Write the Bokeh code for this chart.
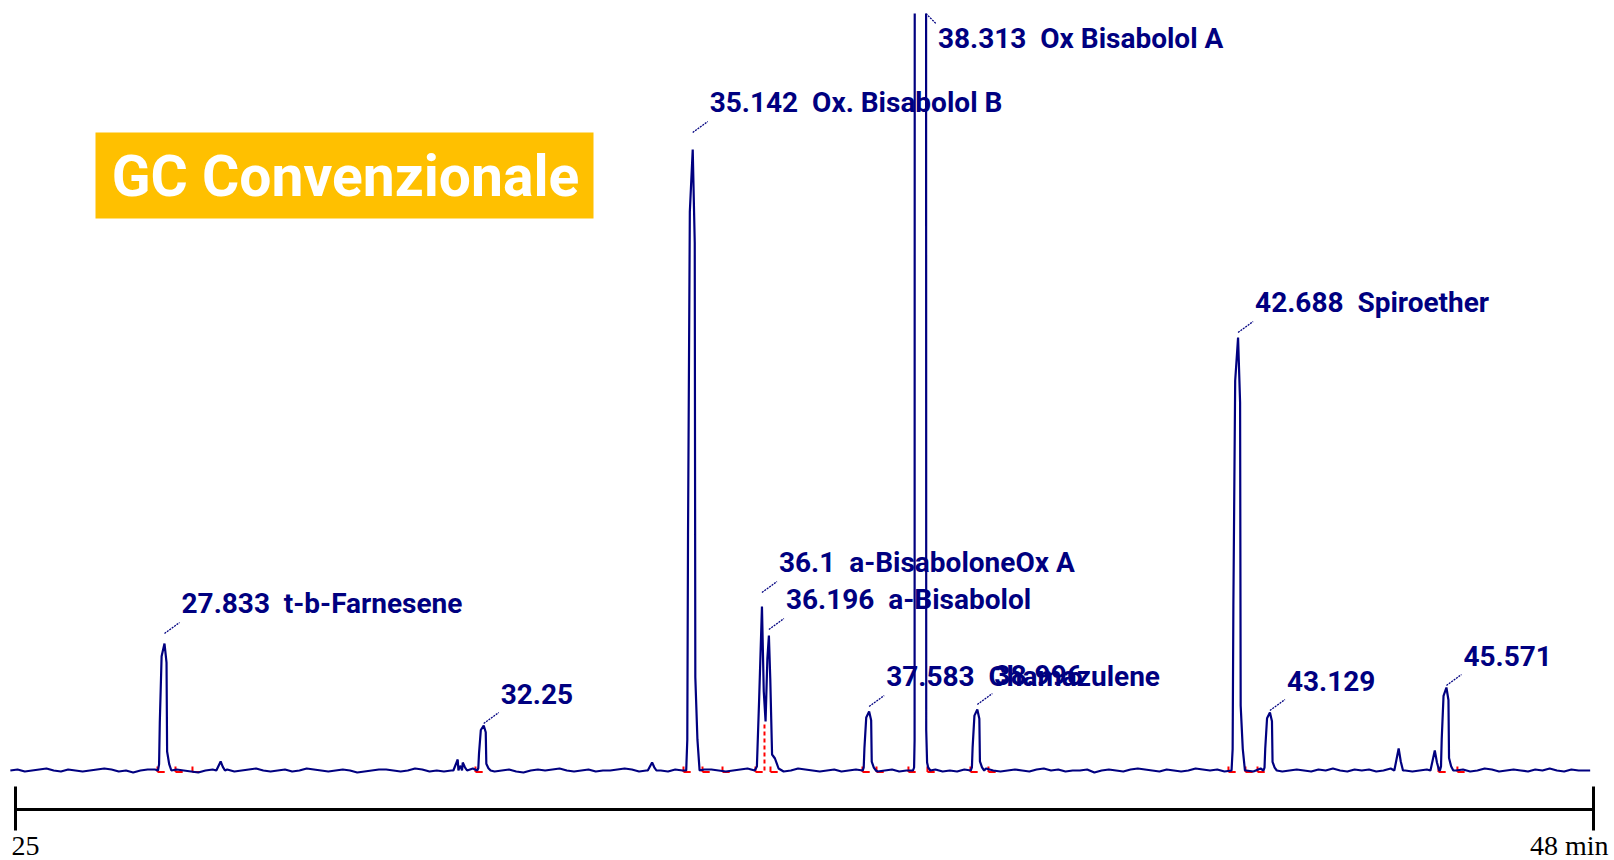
import numpy as np
from bokeh.plotting import figure
from bokeh.models import Range1d
from bokeh.core.properties import value
from bokeh.embed import file_html
from bokeh.resources import INLINE

# ---------------- data ----------------
# labelled, well separated peaks: retention time (min), apex signal (arbitrary units)
peak_rt = [27.833, 32.25, 35.142, 37.583, 39.08, 42.688, 43.129, 45.571]
peak_height = [127, 45, 621, 59, 61, 433, 58, 83]

# closely eluting pair 36.1 / 36.196 (explicit trace points)
pair_t = [36.00, 36.03, 36.06, 36.10, 36.125, 36.15, 36.175, 36.196, 36.215, 36.24, 36.28, 36.33]
pair_y = [0, 4, 69, 164, 79, 49, 112, 135, 92, 16, 12, 2]

# off-scale main peak 38.313 (explicit trace points, top is clipped)
main_t = [38.19, 38.205, 38.212, 38.215, 38.37, 38.373, 38.385, 38.40, 38.43]
main_y = [0, 3, 30, 1200, 1200, 40, 8, 3, 0]

label_rt = [27.833, 32.25, 35.142, 36.1, 36.196, 37.583, 38.313, 39.08, 42.688, 43.129, 45.571]
label_apex = [127, 45, 621, 164, 135, 59, 1200, 61, 433, 58, 83]
label_text = ["27.833  t-b-Farnesene", "32.25", "35.142  Ox. Bisabolol B",
              "36.1  a-BisaboloneOx A", "36.196  a-Bisabolol", "37.583  Chamazulene",
              "38.313  Ox Bisabolol A", "38.996", "42.688  Spiroether", "43.129", "45.571"]

# small unlabelled bumps
minor_rt = [28.61, 31.89, 31.96, 34.58, 44.91, 45.41]
minor_height = [9, 11, 8, 8, 22, 20]

# integration baseline markers (red) and drop line
marker_rt = [27.736, 27.985, 28.220, 32.136, 35.014, 35.277, 35.554, 36.010, 36.218,
             37.491, 37.685, 38.127, 38.390, 38.985, 39.234, 42.555, 42.790, 42.957,
             45.461, 45.723]
drop_rt = [36.135]
drop_height = [46]

# baseline noise, one value every 0.1 min from 25.70 min
noise = [0, 1, -1, 0, 1, 2, 0, -1, 1, 0, -1, 0, 1, 2, 1, -1, 0, -2, 0, 1,
         1, 0, -1, 1, 0, -1, -2, 0, 1, 0, 1, -1, 0, 1, 2, 0, -1, 0, 1, -1,
         0, 2, 1, 0, -1, 0, 1, 0, -2, -1, 0, 1, 1, 0, -1, 0, 2, 1, -1, 0,
         -1, 0, 1, 0, 2, 1, 0, -1, 0, 1, -1, -2, 0, 1, 0, 1, 2, 0, -1, 0,
         1, -1, 0, 0, 1, 2, 1, -1, 0, 1, 0, -1, 1, 0, -2, 0, 1, 1, 0, -1,
         0, 1, 2, 0, -1, 1, 0, -1, 0, 2, 1, 0, -1, 0, 1, -1, 0, 1, 2, 0,
         -1, 0, 1, -1, 0, 1, 0, 2, 1, -1, 0, -1, 1, 0, 1, 2, 0, -1, 0, 1,
         0, -1, 1, 2, 0, 1, -1, 0, 0, 1, -2, 0, 1, 0, -1, 1, 2, 1, 0, -1,
         1, 0, -1, 0, 2, 1, 0, 1, -1, 0, 1, 0, -1, 2, 1, 0, -1, 0, 1, 0,
         -1, 1, 0, 2, 0, -1, 1, 0, 1, -1, 0, 2, 1, 0, -1, 0, 1, -1, 0, 1,
         0, 1, -1, 0, 2, 1, -1, 0, 1, 0, -1, 1, 0, 2, 0, -1, 1, 0, 0]
noise_start = 25.70
noise_step = 0.1

axis_ticks = [25, 48]
axis_tick_labels = ["25", "48 min"]
title_text = "GC Convenzionale"

# ---------------- layout constants ----------------
W, H = 1614, 860
TOP = 13                         # frame top (px)
PXM = 72.27                      # px per minute of the trace
X0 = 27.833 - 164 / PXM          # time at the left canvas edge
Y_TOP, Y_BOT = 770 - TOP, 770 - H   # signal units (1 unit = 1 px, baseline at y=770 px)
AX0 = 25 - 15 * 23 / 1578        # overlay time bar: 25 at x=15 px, 48 at x=1593 px
AX1 = 25 + (W - 15) * 23 / 1578
NAVY = "#000080"
BL = 0.39                        # baseline correction, fraction of font size
LABEL_GAP = [10, 2, 17, 14, 6, 5, 0, 5, 5, 2, 2]   # px between drawn apex and leader


def wx(x):  # pixel x -> time
    return X0 + x / PXM


def wy(y):  # pixel y -> signal
    return 770 - y


def dpx(n):  # pixel offset -> minutes
    return n / PXM


def nb(s):  # keep double spaces visible
    return s.replace("  ", "\u00a0\u00a0")


# ---------------- build the trace ----------------
shape = [(-0.09, 0.0), (-0.075, 0.05), (-0.065, 0.38), (-0.04, 0.9), (0.0, 1.0),
         (0.028, 0.85), (0.036, 0.15), (0.065, 0.05), (0.095, 0.0)]
minor_shape = [(-0.06, 0.0), (-0.03, 0.5), (0.0, 1.0), (0.03, 0.4), (0.06, 0.0)]

base_t = [noise_start + i * noise_step for i in range(len(noise))] + [47.56]
base_y = list(noise) + [0]

windows = [(c - 0.1, c + 0.1) for c in peak_rt] + [(c - 0.07, c + 0.07) for c in minor_rt]
windows += [(pair_t[0] - 0.01, pair_t[-1] + 0.01), (main_t[0] - 0.01, main_t[-1] + 0.01)]

pts = []
for t, y in zip(base_t, base_y):
    if not any(a <= t <= b for a, b in windows):
        pts.append((t, y))
for c, h in zip(peak_rt, peak_height):
    pts += [(c + dt, f * h) for dt, f in shape]
for c, h in zip(minor_rt, minor_height):
    pts += [(c + dt, f * h) for dt, f in minor_shape]
pts += list(zip(pair_t, pair_y)) + list(zip(main_t, main_y))
pts.sort()
trace_t = [q[0] for q in pts]
trace_y = [q[1] for q in pts]

# ---------------- figure ----------------
p = figure(width=W, height=H, x_range=Range1d(X0, X0 + W / PXM),
           y_range=Range1d(Y_BOT, Y_TOP), x_axis_type=None, y_axis_type=None,
           output_backend="svg", toolbar_location=None,
           min_border_left=0, min_border_right=0, min_border_bottom=0, min_border_top=TOP)
p.extra_x_ranges = {"axis": Range1d(AX0, AX1)}
p.outline_line_color = None
p.background_fill_color = "white"
p.border_fill_color = "white"

# orange title box
p.quad(left=[wx(95)], right=[wx(593)], top=[wy(132)], bottom=[wy(218)],
       fill_color="#FFC000", line_color=None)
p.text(x=[wx(345)], y=[wy(198) + BL * 57], text=[title_text], text_color="white",
       text_font=value("Roboto"), text_font_style="bold", text_font_size="57px",
       text_align="center", text_baseline="alphabetic")

# red integration markers
n = len(marker_rt)
p.segment(x0=marker_rt, y0=[-1.5] * n, x1=[t + 0.1 for t in marker_rt], y1=[-1.5] * n,
          line_color="#FF0000", line_width=2)
p.segment(x0=marker_rt, y0=[-1.5] * n, x1=marker_rt, y1=[4] * n,
          line_color="#FF0000", line_width=2)
p.segment(x0=drop_rt, y0=[0] * len(drop_rt), x1=drop_rt, y1=drop_height,
          line_color="#FF0000", line_width=2, line_dash="4 3")

# chromatogram trace
p.line(trace_t, trace_y, line_color=NAVY, line_width=2.2)

# peak labels and leader lines
lx0, ly0, lx1, ly1, tx, ty = [], [], [], [], [], []
for rt, h, g in zip(label_rt, label_apex, LABEL_GAP):
    if h > Y_TOP:  # off-scale peak: leader runs down from the top edge
        lx0.append(rt + dpx(4)); ly0.append(Y_TOP)
        lx1.append(rt + dpx(14)); ly1.append(Y_TOP - 10)
        tx.append(rt + dpx(16)); ty.append(wy(49) + BL * 28)
    else:
        lx0.append(rt); ly0.append(h + g)
        lx1.append(rt + dpx(15)); ly1.append(h + g + 11)
        tx.append(rt + dpx(17)); ty.append(h + g + 19 + BL * 28)
p.segment(x0=lx0, y0=ly0, x1=lx1, y1=ly1, line_color=NAVY, line_width=1.3, line_dash="2 1")
p.text(x=tx, y=ty, text=[nb(s) for s in label_text], text_color=NAVY,
       text_font=value("Roboto"), text_font_style="bold", text_font_size="28px",
       text_align="left", text_baseline="alphabetic")

# time bar (25 ... 48 min)
p.segment(x0=[axis_ticks[0]], y0=[wy(809)], x1=[axis_ticks[-1]], y1=[wy(809)],
          line_color="black", line_width=3, x_range_name="axis")
p.segment(x0=axis_ticks, y0=[wy(786)] * len(axis_ticks), x1=axis_ticks,
          y1=[wy(830)] * len(axis_ticks), line_color="black", line_width=3, x_range_name="axis")
p.text(x=[axis_ticks[0]], y=[wy(856) + BL * 28], text=[axis_tick_labels[0]], x_offset=-4,
       text_align="left", text_baseline="alphabetic", text_color="black",
       text_font=value("Liberation Serif"), text_font_size="28px", x_range_name="axis")
p.text(x=[axis_ticks[-1]], y=[wy(856) + BL * 28], text=[axis_tick_labels[-1]], x_offset=15,
       text_align="right", text_baseline="alphabetic", text_color="black",
       text_font=value("Liberation Serif"), text_font_size="28px", x_range_name="axis")

open("out.html", "w").write(file_html(p, INLINE))
